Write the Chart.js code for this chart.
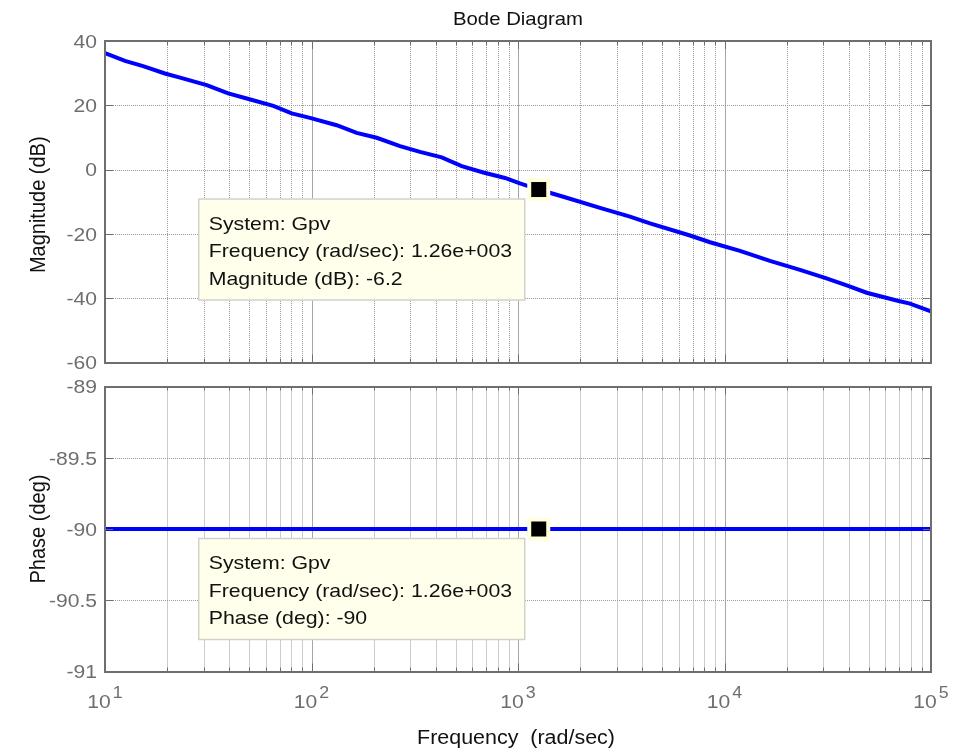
<!DOCTYPE html>
<html>
<head>
<meta charset="utf-8">
<title>Bode Diagram</title>
<script src="https://cdn.jsdelivr.net/npm/chart.js@4.4.1/dist/chart.umd.min.js"></script>
<style>
  html, body { margin: 0; padding: 0; background: #fff; }
  #wrap { position: relative; width: 963px; height: 751px; }
  canvas { position: absolute; left: 0; }
  #magCanvas { top: 0; }
  #phaseCanvas { top: 376px; }
</style>
</head>
<body>
<div id="wrap">
  <canvas id="magCanvas" width="963" height="376"></canvas>
  <canvas id="phaseCanvas" width="963" height="375"></canvas>
</div>
<script>
// Gpv frequency response, frequency in rad/sec
const freq = [10, 12.5, 15.3, 19.5, 23.1, 31.1, 39.5, 48.6, 65.3, 80.2, 98.3, 132.4, 165.5, 206.9,
  268.3, 335.3, 427.1, 533.9, 679.2, 865, 1022, 1260, 1689, 2495, 3486, 4357, 6808, 8511, 11885,
  16600, 23210, 30670, 39070, 48820, 68220, 79070, 100000];
const magDb = [36.2, 33.8, 32.2, 29.9, 28.6, 26.3, 23.7, 22.1, 19.8, 17.5, 16.1, 13.8, 11.4, 9.9,
  7.3, 5.5, 3.8, 1.1, -0.9, -2.6, -4.3, -6.2, -8.6, -11.9, -14.6, -16.7, -20.5, -22.6, -25.3,
  -28.4, -31.2, -33.7, -36.0, -38.3, -40.7, -41.7, -44.1];
const phaseFreq = [10, 100000];
const phaseDeg = [-90, -90];

// data tip location
const tipFreq = 1260;
const tipMag = -6.2;
const tipPhase = -90;

// axes
const decades = [10, 100, 1000, 10000, 100000];
const decadeExp = ['1', '2', '3', '4', '5'];
const magTicks = [40, 20, 0, -20, -40, -60];
const magTickLabels = ['40', '20', '0', '-20', '-40', '-60'];
const phaseTicks = [-89, -89.5, -90, -90.5, -91];
const phaseTickLabels = ['-89', '-89.5', '-90', '-90.5', '-91'];

const SX = 1.11;          // glyphs are a bit wide in this figure
const FONT = '"Liberation Sans", Arial, sans-serif';
const AXIS_GRAY = '#6e6e6e';

function drawText(ctx, str, x, y, font, color, align, sx) {
  sx = sx || SX;
  ctx.save();
  ctx.font = font;
  ctx.fillStyle = color;
  ctx.textBaseline = 'alphabetic';
  ctx.textAlign = 'left';
  const w = ctx.measureText(str).width * sx;
  let left = x;
  if (align === 'center') left = x - w / 2;
  else if (align === 'right') left = x - w;
  ctx.translate(left, y);
  ctx.scale(sx, 1);
  ctx.fillText(str, 0, 0);
  ctx.restore();
  return w;
}

function textWidth(ctx, str, font, sx) {
  ctx.save();
  ctx.font = font;
  const w = ctx.measureText(str).width * (sx || SX);
  ctx.restore();
  return w;
}

function fmtFreq(v) {
  const parts = v.toExponential(2).split('e');
  const sign = parts[1][0] === '-' ? '-' : '+';
  const digits = parts[1].replace(/[+-]/, '').padStart(3, '0');
  return parts[0] + 'e' + sign + digits;
}

// frequency values of every grid line (1..9 per decade)
function gridFreqs() {
  const out = [];
  decades.forEach(d => {
    for (let m = 1; m <= 9; m++) {
      const v = d * m;
      if (v <= 100000) out.push({ v, major: m === 1 });
    }
  });
  return out;
}

const bodeFrame = {
  id: 'bodeFrame',
  beforeDatasetsDraw(chart, args, o) {
    const { ctx, chartArea: a, scales: { x, y } } = chart;
    ctx.save();
    ctx.lineWidth = 1;
    gridFreqs().forEach(g => {
      const px = Math.round(x.getPixelForValue(g.v)) + 0.5;
      ctx.beginPath();
      if (g.major) {
        ctx.setLineDash([]);
        ctx.strokeStyle = '#a6a6a6';
      } else {
        ctx.setLineDash([1, 1]);
        ctx.strokeStyle = '#9a9a9a';
      }
      ctx.moveTo(px, a.top);
      ctx.lineTo(px, a.bottom);
      ctx.stroke();
    });
    ctx.setLineDash([1, 1]);
    ctx.strokeStyle = '#9a9a9a';
    o.yTicks.forEach(v => {
      const py = Math.round(y.getPixelForValue(v)) + 0.5;
      ctx.beginPath();
      ctx.moveTo(a.left, py);
      ctx.lineTo(a.right, py);
      ctx.stroke();
    });
    ctx.restore();
  },
  afterDatasetsDraw(chart, args, o) {
    const { ctx, scales: { x, y } } = chart;
    const mx = x.getPixelForValue(o.tip.x);
    const my = y.getPixelForValue(o.tip.y);

    // marker: black square on a pale halo
    ctx.save();
    ctx.fillStyle = '#ffffdc';
    ctx.fillRect(mx - 11.5, my - 11.5, 23, 23);
    ctx.fillStyle = '#000';
    ctx.fillRect(mx - 7.5, my - 7.5, 15, 15);
    ctx.restore();

    // data tip box next to the marker
    const bw = 326, bh = 101;
    const bx = mx - 14 - bw;
    const by = my + 9.5;
    ctx.save();
    ctx.fillStyle = '#ffffeb';
    ctx.fillRect(bx, by, bw, bh);
    ctx.strokeStyle = '#d2d2cc';
    ctx.lineWidth = 1.5;
    ctx.strokeRect(bx, by, bw, bh);
    ctx.restore();
    const f = '18.5px ' + FONT;
    const lines = ['System: Gpv', 'Frequency (rad/sec): ' + fmtFreq(o.tip.x), o.tip.label + ': ' + o.tip.y];
    lines.forEach((s, i) => drawText(ctx, s, bx + 10, by + 30.6 + i * 27.5, f, '#111', 'left', 1.15));
  },
  afterDraw(chart, args, o) {
    const { ctx, chartArea: a, scales: { x, y } } = chart;
    ctx.save();
    // inner tick marks
    ctx.strokeStyle = AXIS_GRAY;
    ctx.lineWidth = 1;
    gridFreqs().forEach(g => {
      const px = Math.round(x.getPixelForValue(g.v)) + 0.5;
      const len = g.major ? 8 : 4;
      ctx.beginPath();
      ctx.moveTo(px, a.bottom);
      ctx.lineTo(px, a.bottom - len);
      ctx.moveTo(px, a.top);
      ctx.lineTo(px, a.top + len);
      ctx.stroke();
    });
    o.yTicks.forEach(v => {
      const py = Math.round(y.getPixelForValue(v)) + 0.5;
      ctx.beginPath();
      ctx.moveTo(a.left, py);
      ctx.lineTo(a.left + 8, py);
      ctx.moveTo(a.right, py);
      ctx.lineTo(a.right - 8, py);
      ctx.stroke();
    });
    // axes box
    ctx.lineWidth = 2;
    ctx.strokeStyle = AXIS_GRAY;
    ctx.strokeRect(Math.round(a.left), Math.round(a.top), Math.round(a.right) - Math.round(a.left), Math.round(a.bottom) - Math.round(a.top));
    ctx.restore();

    // y tick labels
    const tf = '19px ' + FONT;
    o.yTicks.forEach((v, i) => {
      const py = y.getPixelForValue(v);
      drawText(ctx, o.yLabels[i], a.left - 8, py + 6.8, tf, AXIS_GRAY, 'right');
    });

    // y axis title, rotated
    ctx.save();
    ctx.font = '20px ' + FONT;
    ctx.fillStyle = '#111';
    ctx.textAlign = 'center';
    ctx.textBaseline = 'alphabetic';
    ctx.translate(45, (a.top + a.bottom) / 2 + o.titleShift);
    ctx.rotate(-Math.PI / 2);
    ctx.scale(1, SX);
    ctx.fillText(o.yTitle, 0, 0);
    ctx.restore();

    if (o.title) {
      drawText(ctx, o.title, (a.left + a.right) / 2, 25, '18.5px ' + FONT, '#111', 'center', 1.1);
    }

    if (o.showX) {
      const bf = '19px ' + FONT, ef = '16px ' + FONT;
      decades.forEach((d, i) => {
        const px = x.getPixelForValue(d);
        const wb = textWidth(ctx, '10', bf);
        const we = textWidth(ctx, decadeExp[i], ef);
        const left = px - (wb + we + 2) / 2;
        const base = a.bottom + 36.5;
        drawText(ctx, '10', left, base, bf, AXIS_GRAY, 'left');
        drawText(ctx, decadeExp[i], left + wb + 2, base - 10, ef, AXIS_GRAY, 'left');
      });
      drawText(ctx, 'Frequency  (rad/sec)', (a.left + a.right) / 2 - 2, a.bottom + 72.6, '19.5px ' + FONT, '#111', 'center', 1.1);
    }
  }
};

function bodeChart(canvasId, xs, ys, tip, cfg) {
  const pts = xs.map((v, i) => ({ x: v, y: ys[i] }));
  return new Chart(document.getElementById(canvasId), {
    type: 'line',
    data: {
      datasets: [
        { data: pts, borderColor: '#0000ff', borderWidth: 4, pointRadius: 0, tension: 0, fill: false }
      ]
    },
    options: {
      responsive: false,
      animation: false,
      events: [],
      layout: { padding: cfg.padding, autoPadding: false },
      scales: {
        x: { type: 'logarithmic', min: 10, max: 100000, display: false },
        y: { type: 'linear', min: cfg.yMin, max: cfg.yMax, display: false }
      },
      plugins: {
        legend: { display: false },
        tooltip: { enabled: false },
        bodeFrame: Object.assign({ tip }, cfg)
      }
    },
    plugins: [bodeFrame]
  });
}

bodeChart('magCanvas', freq, magDb,
  { x: tipFreq, y: tipMag, label: 'Magnitude (dB)' },
  {
    padding: { left: 105, right: 32, top: 41, bottom: 13.5 },
    yMin: -60, yMax: 40,
    yTicks: magTicks, yLabels: magTickLabels,
    yTitle: 'Magnitude (dB)', titleShift: 3,
    title: 'Bode Diagram', showX: false
  });

bodeChart('phaseCanvas', phaseFreq, phaseDeg,
  { x: tipFreq, y: tipPhase, label: 'Phase (deg)' },
  {
    padding: { left: 105, right: 32, top: 10.5, bottom: 79.5 },
    yMin: -91, yMax: -89,
    yTicks: phaseTicks, yLabels: phaseTickLabels,
    yTitle: 'Phase (deg)', titleShift: 0,
    title: null, showX: true
  });
</script>
</body>
</html>
